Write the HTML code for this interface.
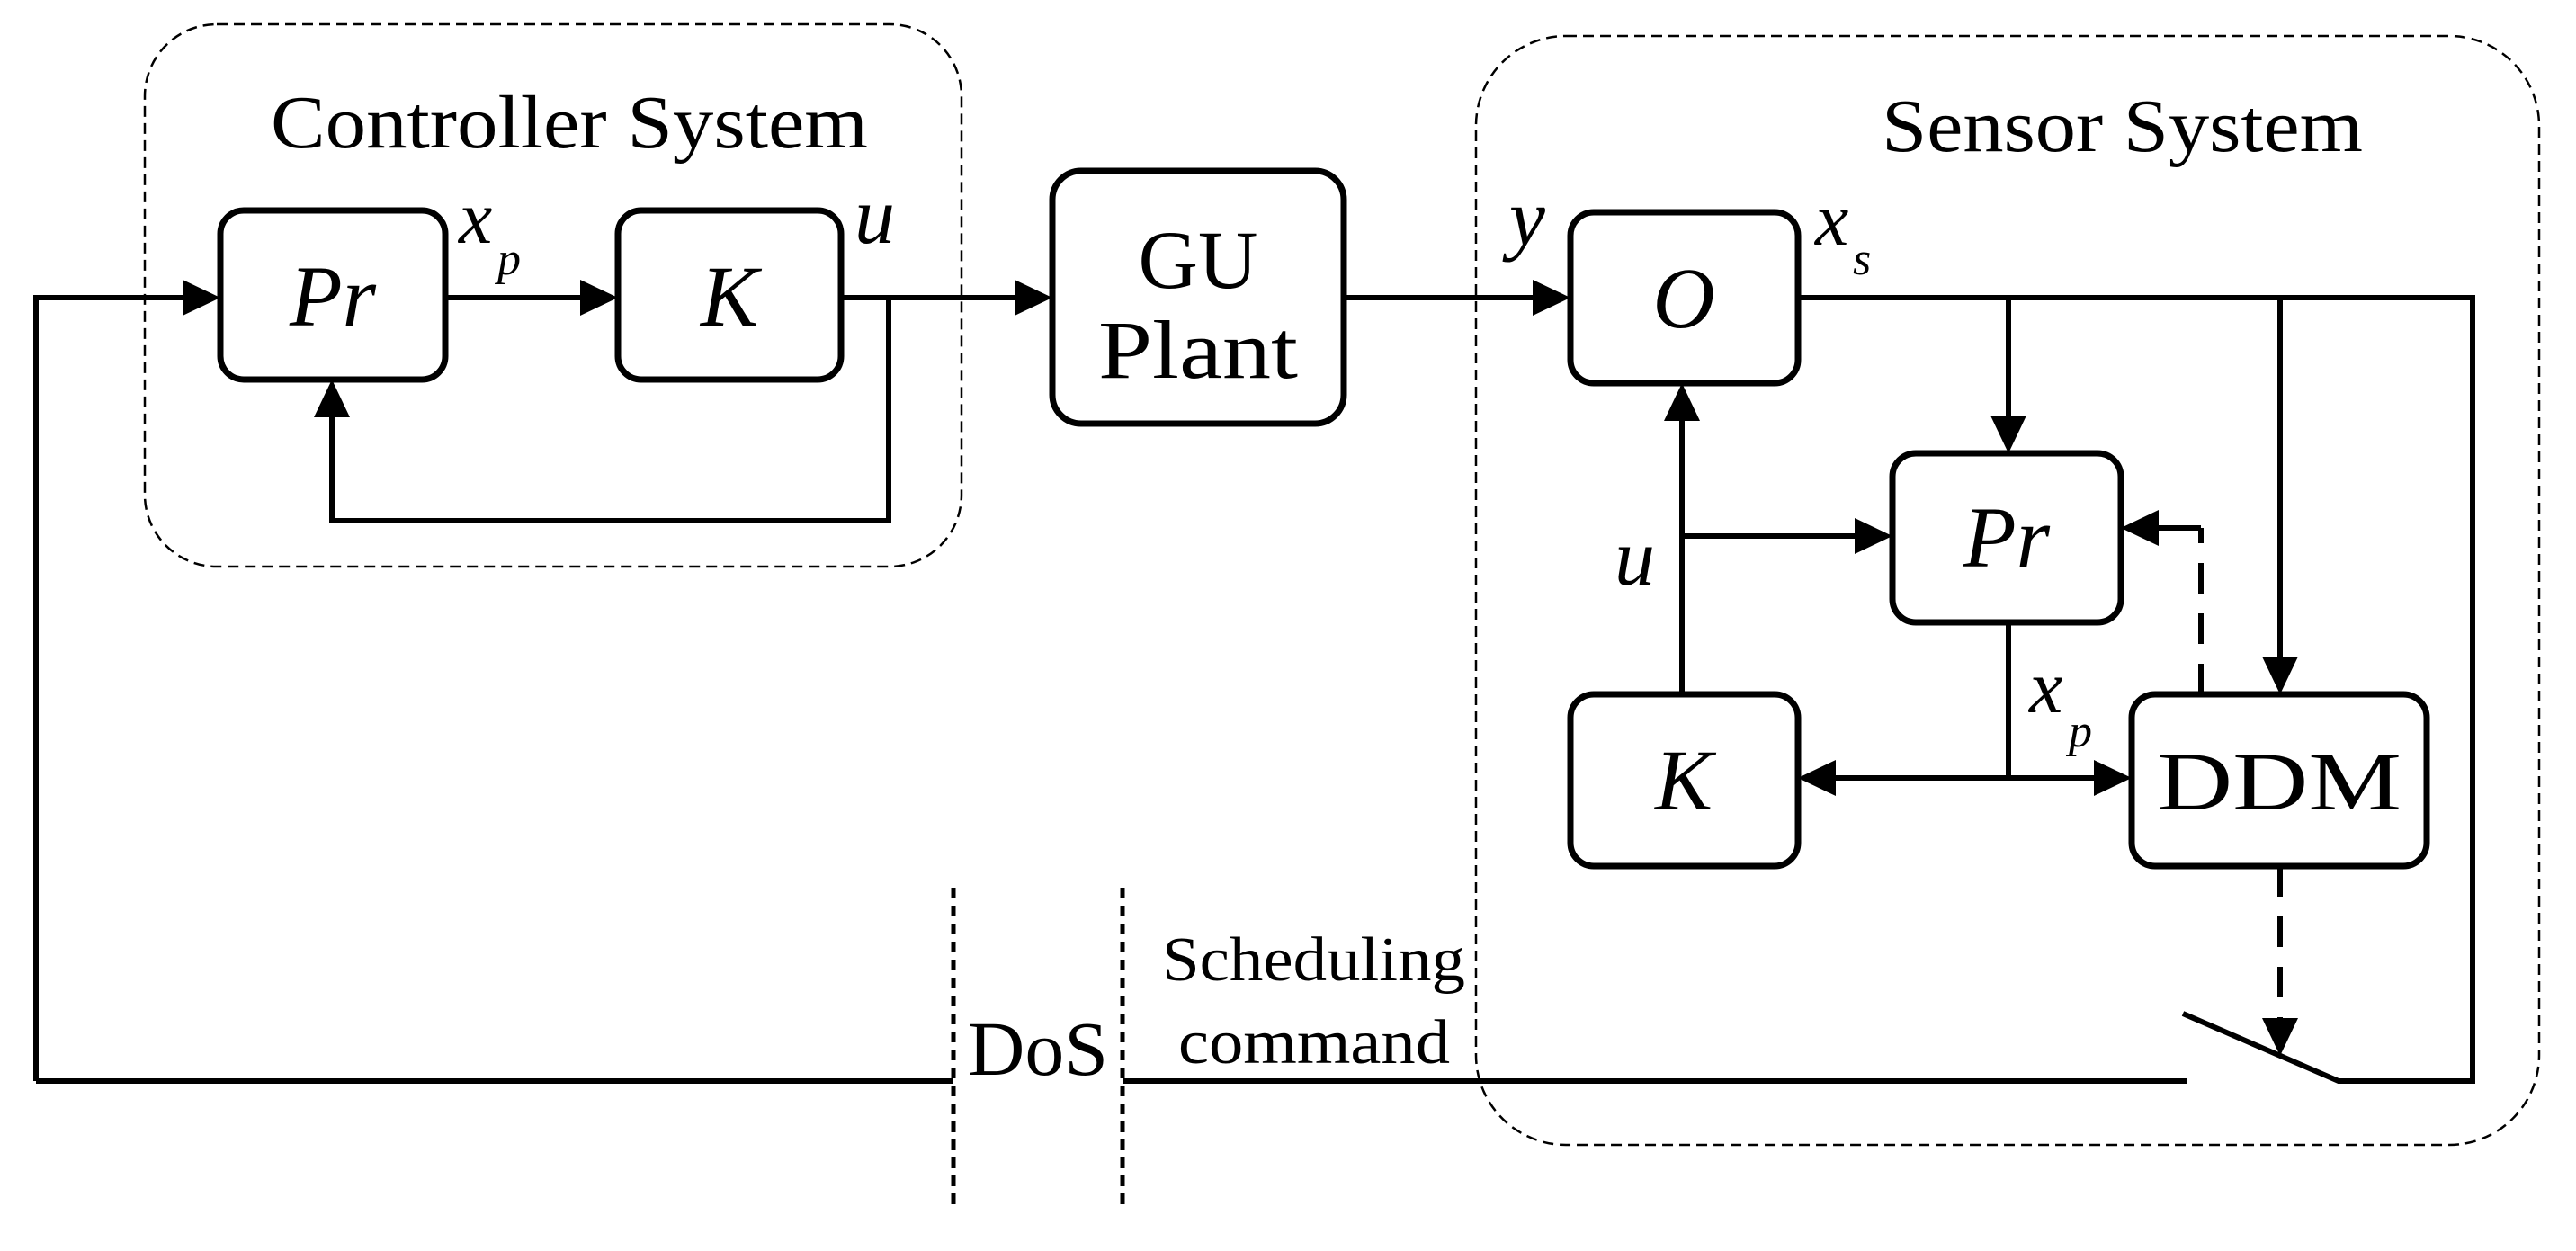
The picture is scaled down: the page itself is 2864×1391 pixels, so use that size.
<!DOCTYPE html>
<html><head><meta charset="utf-8"><style>html,body{margin:0;padding:0;background:#fff}svg{display:block}
text{font-family:"Liberation Serif","Times New Roman",Times,"Nimbus Roman",serif}</style></head>
<body>
<svg width="2864" height="1391" viewBox="0 0 2864 1391" xmlns="http://www.w3.org/2000/svg">
<g fill="none" stroke="#000">
<rect x="161" y="27" width="908" height="603" rx="80" stroke-width="2.5" stroke-dasharray="12,7"/>
<rect x="1641" y="40" width="1182" height="1233" rx="100" stroke-width="2.5" stroke-dasharray="12,7"/>
<g stroke-width="7">
<rect x="245" y="234" width="250" height="188" rx="26"/>
<rect x="687" y="234" width="248" height="188" rx="26"/>
<rect x="1170" y="190" width="324" height="281" rx="32"/>
<rect x="1746" y="236" width="253" height="190" rx="26"/>
<rect x="2104" y="504" width="254" height="188" rx="26"/>
<rect x="1746" y="772" width="253" height="191" rx="26"/>
<rect x="2370" y="772" width="328" height="191" rx="26"/>
</g>
<g stroke-width="6">
<polyline points="40,1202 40,331 210,331"/>
<line x1="497" y1="331" x2="650" y2="331"/>
<line x1="935" y1="331" x2="1130" y2="331"/>
<polyline points="988,331 988,579 369,579 369,460"/>
<line x1="1494" y1="331" x2="1708" y2="331"/>
<polyline points="1999,331 2749,331 2749,1202 2600,1202 2427,1127"/>
<line x1="2431" y1="1202" x2="1248" y2="1202"/>
<line x1="1060" y1="1202" x2="40" y2="1202"/>
<line x1="2233" y1="331" x2="2233" y2="466"/>
<line x1="2535" y1="331" x2="2535" y2="734"/>
<line x1="1870" y1="772" x2="1870" y2="464"/>
<line x1="1870" y1="596" x2="2066" y2="596"/>
<line x1="2447" y1="587" x2="2396" y2="587"/>
<polyline points="2233,692 2233,865"/>
<line x1="2037" y1="865" x2="2332" y2="865"/>
<line x1="2447" y1="772" x2="2447" y2="587" stroke-dasharray="34,22"/>
<line x1="2535" y1="963" x2="2535" y2="1135" stroke-dasharray="34,22"/>
</g>
<g stroke-width="5" stroke-dasharray="12,8">
<line x1="1060" y1="987" x2="1060" y2="1343"/>
<line x1="1248" y1="987" x2="1248" y2="1343"/>
</g>
</g>
<g fill="#000">
<polygon points="245,331 203,311 203,351"/>
<polygon points="687,331 645,311 645,351"/>
<polygon points="1170,331 1128,311 1128,351"/>
<polygon points="369,422 349,464 389,464"/>
<polygon points="1746,331 1704,311 1704,351"/>
<polygon points="2233,504 2213,462 2253,462"/>
<polygon points="2535,772 2515,730 2555,730"/>
<polygon points="1870,426 1850,468 1890,468"/>
<polygon points="2104,596 2062,576 2062,616"/>
<polygon points="2358,587 2400,567 2400,607"/>
<polygon points="1999,865 2041,845 2041,885"/>
<polygon points="2370,865 2328,845 2328,885"/>
<polygon points="2535,1174 2515,1132 2555,1132"/>
</g>
<g fill="#000">
<text x="301" y="164" font-size="84" textLength="664" lengthAdjust="spacingAndGlyphs">Controller System</text>
<text x="2092" y="168" font-size="84" textLength="535" lengthAdjust="spacingAndGlyphs">Sensor System</text>
<text x="1332" y="320" font-size="92" text-anchor="middle">GU</text>
<text x="1332" y="420" font-size="92" text-anchor="middle" textLength="222" lengthAdjust="spacingAndGlyphs">Plant</text>
<text x="370" y="362" font-size="96" font-style="italic" text-anchor="middle">Pr</text>
<text x="811" y="362" font-size="96" font-style="italic" text-anchor="middle">K</text>
<text x="1872" y="364" font-size="96" font-style="italic" text-anchor="middle">O</text>
<text x="2231" y="630" font-size="96" font-style="italic" text-anchor="middle">Pr</text>
<text x="1872" y="900" font-size="96" font-style="italic" text-anchor="middle">K</text>
<text x="2534" y="900" font-size="92" text-anchor="middle" textLength="272" lengthAdjust="spacingAndGlyphs">DDM</text>
<text x="510" y="270" font-size="84" font-style="italic">x</text>
<text x="553" y="305" font-size="52" font-style="italic">p</text>
<text x="950" y="270" font-size="90" font-style="italic">u</text>
<text x="1678" y="272" font-size="90" font-style="italic">y</text>
<text x="2018" y="272" font-size="84" font-style="italic">x</text>
<text x="2060" y="305" font-size="52" font-style="italic">s</text>
<text x="1795" y="650" font-size="90" font-style="italic">u</text>
<text x="2256" y="792" font-size="84" font-style="italic">x</text>
<text x="2300" y="830" font-size="52" font-style="italic">p</text>
<text x="1076" y="1195" font-size="86" textLength="156" lengthAdjust="spacingAndGlyphs">DoS</text>
<text x="1292" y="1090" font-size="70" textLength="337" lengthAdjust="spacingAndGlyphs">Scheduling</text>
<text x="1310" y="1182" font-size="70" textLength="302" lengthAdjust="spacingAndGlyphs">command</text>
</g>
</svg>
</body></html>
